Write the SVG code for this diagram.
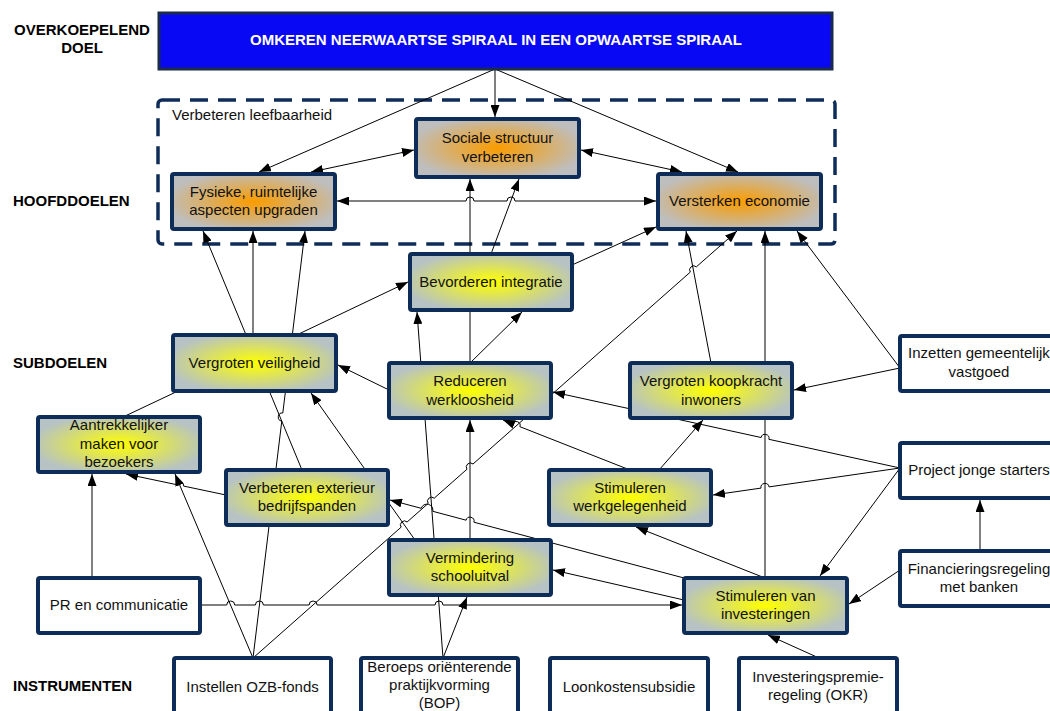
<svg xmlns="http://www.w3.org/2000/svg" width="1050" height="711" viewBox="0 0 1050 711">
<style>
.n{stroke:#0E2C58;stroke-width:4}
.gold{fill:url(#gGold)}
.yel{fill:url(#gYel)}
.wht{fill:#fff}
.t{font-family:"Liberation Sans",Arial,sans-serif;font-size:15px;fill:#111;text-anchor:middle}
.tl{font-family:"Liberation Sans",Arial,sans-serif;font-size:15px;fill:#111}
.lbl{font-family:"Liberation Sans",Arial,sans-serif;font-size:15px;font-weight:bold;fill:#000}
.c path{fill:none;stroke:#000;stroke-width:1;marker-end:url(#ah)}
.c path.b{marker-start:url(#ah)}
.c path.p{marker-end:none}
</style>
<defs>
<radialGradient id="gGold" cx="50%" cy="50%" r="55%">
<stop offset="0%" stop-color="#FA9C00"/>
<stop offset="100%" stop-color="#BEBEBE"/>
</radialGradient>
<radialGradient id="gYel" cx="50%" cy="50%" r="55%">
<stop offset="0%" stop-color="#FFFF00"/>
<stop offset="100%" stop-color="#B6C2C4"/>
</radialGradient>
<marker id="ah" markerUnits="userSpaceOnUse" markerWidth="12" markerHeight="9" viewBox="0 0 12 9" refX="12" refY="4.5" orient="auto-start-reverse">
<path d="M0,0 L12,4.5 L0,9 z" fill="#000"/>
</marker>
</defs>
<rect width="1050" height="711" fill="#fff"/>

<g id="labels">
<text class="lbl" x="82" y="35" text-anchor="middle">OVERKOEPELEND</text>
<text class="lbl" x="82" y="53" text-anchor="middle">DOEL</text>
<text class="lbl" x="13" y="206">HOOFDDOELEN</text>
<text class="lbl" x="13" y="368">SUBDOELEN</text>
<text class="lbl" x="13" y="691">INSTRUMENTEN</text>
</g>

<g id="leefbaarheid">
<rect x="158" y="100" width="677" height="144" rx="4" fill="none" stroke="#0E2C58" stroke-width="3.5" stroke-dasharray="18 10"/>
<text class="tl" x="172" y="120">Verbeteren leefbaarheid</text>
</g>

<g class="c" id="connectors">
<path d="M495,69 L259,172"/>
<path d="M495,69 L495,117"/>
<path d="M495,69 L738,172"/>
<path class="b" d="M414,150 L311,172"/>
<path class="b" d="M581,150 L682,172"/>
<path class="b" d="M337,201 H466 A4,4 0 0 1 474,201 H507 A4,4 0 0 1 515,201 H656"/>
<path d="M470,363 L470,179"/>
<path d="M491,254 L519,179"/>
<path d="M253,335 L253,231"/>
<path d="M302,470 L203,231"/>
<path d="M253,658 L281.8,421 A4,4 0 0 1 282.8,413 L305,231"/>
<path d="M123,417 L288.4,338.9 A4,4 0 0 1 295.6,335.5 L408,282"/>
<path d="M389,390 L338,365"/>
<path d="M470,363 L522,312"/>
<path d="M443,658 L417,312"/>
<path d="M443,658 L467,597"/>
<path d="M470,540 L470,420"/>
<path d="M630,470 L519.9,426.7 A4,4 0 0 0 512.5,423.7 L503,420"/>
<path d="M253,658 L401.1,527.2 A4,4 0 0 1 407.1,522 L428.2,503.4 A4,4 0 0 1 434.2,498.2 L467,469.2 A4,4 0 0 1 473,464 L690.3,272.1 A4,4 0 0 1 696.3,266.9 L737,231"/>
<path d="M900,468 L768.9,439.3 A4,4 0 0 0 761.1,437.5 L553,392"/>
<path d="M711,363 L686,231"/>
<path d="M765,578 L765,231"/>
<path d="M900,368 L797,231"/>
<path d="M900,368 L794,390"/>
<path d="M572,265 L656,227"/>
<path d="M900,468 L769,486.9 A4,4 0 0 0 761,488.1 L713,495"/>
<path d="M900,468 L820,576"/>
<path d="M980,551 L980,500"/>
<path d="M900,570 L849,604"/>
<path d="M659,470 L703,420"/>
<path d="M765,578 L636,527"/>
<path d="M684,578 L473.9,522.2 A4,4 0 0 0 466.1,520.2 L432.8,511.3 A6,6 0 0 0 421.2,508.3 L390,500"/>
<path d="M684,600 L553,570"/>
<path d="M200,605 H226.7 A4,4 0 0 1 234.7,605 H255.4 A4,4 0 0 1 263.4,605 H309.1 A4,4 0 0 1 317.1,605 H435 A4,4 0 0 1 443,605 H682"/>
<path d="M92,578 L92,474"/>
<path d="M253,658 L175,474"/>
<path d="M226,495 L183.7,486.1 A4,4 0 0 0 175.9,484.5 L126,474"/>
<path d="M415,540 L311,393"/>
<path d="M819,658 L768,635"/>
</g>

<g id="doel">
<rect x="159" y="13" width="673" height="56" fill="#0808F4" stroke="#1B2B4B" stroke-width="3"/>
<text x="496" y="45" text-anchor="middle" font-family="Liberation Sans, Arial, sans-serif" font-size="15" font-weight="bold" fill="#fff">OMKEREN NEERWAARTSE SPIRAAL IN EEN OPWAARTSE SPIRAAL</text>
</g>

<g id="sociale">
<rect class="n gold" x="416" y="119" width="163" height="58" rx="2"/>
<text class="t" x="497.5" y="143">Sociale structuur</text>
<text class="t" x="497.5" y="162">verbeteren</text>
</g>
<g id="fysieke">
<rect class="n gold" x="172" y="174" width="163" height="55" rx="2"/>
<text class="t" x="253.5" y="197">Fysieke, ruimtelijke</text>
<text class="t" x="253.5" y="215">aspecten upgraden</text>
</g>
<g id="versterken">
<rect class="n gold" x="658" y="174" width="163" height="55" rx="2"/>
<text class="t" x="739.5" y="206">Versterken economie</text>
</g>

<g id="bevorderen">
<rect class="n yel" x="410" y="254" width="162" height="56" rx="2"/>
<text class="t" x="491" y="287">Bevorderen integratie</text>
</g>
<g id="veiligheid">
<rect class="n yel" x="173" y="335" width="163" height="56" rx="2"/>
<text class="t" x="254.5" y="368">Vergroten veiligheid</text>
</g>
<g id="reduceren">
<rect class="n yel" x="389" y="363" width="162" height="55" rx="2"/>
<text class="t" x="470" y="386">Reduceren</text>
<text class="t" x="470" y="405">werkloosheid</text>
</g>
<g id="koopkracht">
<rect class="n yel" x="630" y="363" width="162" height="55" rx="2"/>
<text class="t" x="711" y="386">Vergroten koopkracht</text>
<text class="t" x="711" y="405">inwoners</text>
</g>
<g id="inzetten">
<rect class="n wht" x="900" y="336" width="165" height="55" rx="2"/>
<text class="t" x="979" y="358">Inzetten gemeentelijk</text>
<text class="t" x="979" y="377">vastgoed</text>
</g>
<g id="aantrekkelijker">
<rect class="n yel" x="38" y="417" width="162" height="55" rx="2"/>
<text class="t" x="119" y="430">Aantrekkelijker</text>
<text class="t" x="119" y="449">maken voor</text>
<text class="t" x="119" y="467">bezoekers</text>
</g>
<g id="exterieur">
<rect class="n yel" x="226" y="470" width="162" height="55" rx="2"/>
<text class="t" x="307" y="493">Verbeteren exterieur</text>
<text class="t" x="307" y="511">bedrijfspanden</text>
</g>
<g id="werkgelegenheid">
<rect class="n yel" x="549" y="470" width="162" height="55" rx="2"/>
<text class="t" x="630" y="493">Stimuleren</text>
<text class="t" x="630" y="511">werkgelegenheid</text>
</g>
<g id="starters">
<rect class="n wht" x="900" y="443" width="165" height="55" rx="2"/>
<text class="t" x="979" y="475">Project jonge starters</text>
</g>
<g id="schooluitval">
<rect class="n yel" x="389" y="540" width="162" height="55" rx="2"/>
<text class="t" x="470" y="563">Vermindering</text>
<text class="t" x="470" y="581">schooluitval</text>
</g>
<g id="investeringen">
<rect class="n yel" x="684" y="578" width="163" height="55" rx="2"/>
<text class="t" x="765.5" y="601">Stimuleren van</text>
<text class="t" x="765.5" y="619">investeringen</text>
</g>
<g id="financiering">
<rect class="n wht" x="900" y="551" width="165" height="55" rx="2"/>
<text class="t" x="979" y="574">Financieringsregeling</text>
<text class="t" x="979" y="592">met banken</text>
</g>
<g id="pr">
<rect class="n wht" x="38" y="578" width="162" height="55" rx="2"/>
<text class="t" x="119" y="610">PR en communicatie</text>
</g>
<g id="ozb">
<rect class="n wht" x="174" y="658" width="157" height="70" rx="2"/>
<text class="t" x="252.5" y="692">Instellen OZB-fonds</text>
</g>
<g id="bop">
<rect class="n wht" x="361" y="658" width="157" height="70" rx="2"/>
<text class="t" x="439.5" y="672">Beroeps oriënterende</text>
<text class="t" x="439.5" y="690">praktijkvorming</text>
<text class="t" x="439.5" y="708">(BOP)</text>
</g>
<g id="loonkosten">
<rect class="n wht" x="550" y="658" width="158" height="70" rx="2"/>
<text class="t" x="629" y="692">Loonkostensubsidie</text>
</g>
<g id="okr">
<rect class="n wht" x="739" y="658" width="158" height="70" rx="2"/>
<text class="t" x="818" y="682">Investeringspremie-</text>
<text class="t" x="818" y="700">regeling (OKR)</text>
</g>
</svg>
